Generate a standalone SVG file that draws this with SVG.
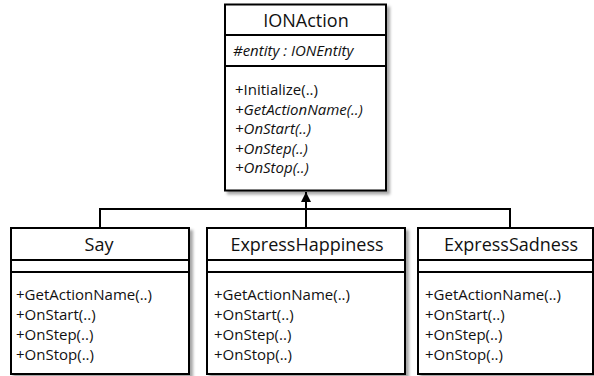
<svg xmlns="http://www.w3.org/2000/svg" width="594" height="376" viewBox="0 0 594 376">
  <style>
    .box { fill: #ffffff; stroke: #000000; stroke-width: 2; }
    .sep { stroke: #000000; stroke-width: 2; fill: none; }
    .title { font-family: "Open Sans", "Liberation Sans", sans-serif; font-size: 18px; fill: #111111; text-anchor: middle; }
    .member { font-family: "Open Sans", "Liberation Sans", sans-serif; font-size: 15px; fill: #111111; }
    .abstract { font-style: italic; }
    .link { stroke: #000000; stroke-width: 2; fill: none; }
  </style>
  <defs>
    <filter id="shadow" x="-10%" y="-10%" width="125%" height="125%">
      <feDropShadow dx="3" dy="3" stdDeviation="1.5" flood-color="#000000" flood-opacity="0.35"/>
    </filter>
    <marker id="arrow" viewBox="0 0 10 10" refX="10" refY="5" markerWidth="10" markerHeight="10" markerUnits="userSpaceOnUse" orient="auto">
      <path d="M0,0 L10,5 L0,10 Z" fill="#000000"/>
    </marker>
  </defs>

  <rect width="594" height="376" fill="#ffffff"/>

  <!-- generalization connectors -->
  <g id="connectors">
    <path class="link" d="M100,228 V209 H510 V228"/>
    <path class="link" d="M306,228 V192" marker-end="url(#arrow)"/>
  </g>

  <!-- abstract base class -->
  <g id="IONAction">
    <rect class="box" x="225" y="4.5" width="161" height="186" filter="url(#shadow)"/>
    <line class="sep" x1="225" y1="35" x2="386" y2="35"/>
    <line class="sep" x1="225" y1="66" x2="386" y2="66"/>
    <text class="title" x="306" y="27">IONAction</text>
    <text class="member abstract" x="233" y="56">#entity : IONEntity</text>
    <text class="member" x="235" y="95">+Initialize(..)</text>
    <text class="member abstract" x="235" y="114.5">+GetActionName(..)</text>
    <text class="member abstract" x="235" y="134">+OnStart(..)</text>
    <text class="member abstract" x="235" y="153.5">+OnStep(..)</text>
    <text class="member abstract" x="235" y="173">+OnStop(..)</text>
  </g>

  <!-- concrete actions -->
  <g id="Say">
    <rect class="box" x="11" y="228" width="178" height="146" filter="url(#shadow)"/>
    <line class="sep" x1="11" y1="260" x2="189" y2="260"/>
    <line class="sep" x1="11" y1="272" x2="189" y2="272"/>
    <text class="title" x="99" y="251">Say</text>
    <text class="member" x="16" y="300">+GetActionName(..)</text>
    <text class="member" x="16" y="320">+OnStart(..)</text>
    <text class="member" x="16" y="340">+OnStep(..)</text>
    <text class="member" x="16" y="360">+OnStop(..)</text>
  </g>

  <g id="ExpressHappiness">
    <rect class="box" x="207" y="228" width="198" height="146" filter="url(#shadow)"/>
    <line class="sep" x1="207" y1="260" x2="405" y2="260"/>
    <line class="sep" x1="207" y1="272" x2="405" y2="272"/>
    <text class="title" x="307" y="251">ExpressHappiness</text>
    <text class="member" x="214" y="300">+GetActionName(..)</text>
    <text class="member" x="214" y="320">+OnStart(..)</text>
    <text class="member" x="214" y="340">+OnStep(..)</text>
    <text class="member" x="214" y="360">+OnStop(..)</text>
  </g>

  <g id="ExpressSadness">
    <rect class="box" x="418" y="228" width="175" height="146" filter="url(#shadow)"/>
    <line class="sep" x1="418" y1="260" x2="593" y2="260"/>
    <line class="sep" x1="418" y1="272" x2="593" y2="272"/>
    <text class="title" x="511" y="251">ExpressSadness</text>
    <text class="member" x="425" y="300">+GetActionName(..)</text>
    <text class="member" x="425" y="320">+OnStart(..)</text>
    <text class="member" x="425" y="340">+OnStep(..)</text>
    <text class="member" x="425" y="360">+OnStop(..)</text>
  </g>
</svg>
